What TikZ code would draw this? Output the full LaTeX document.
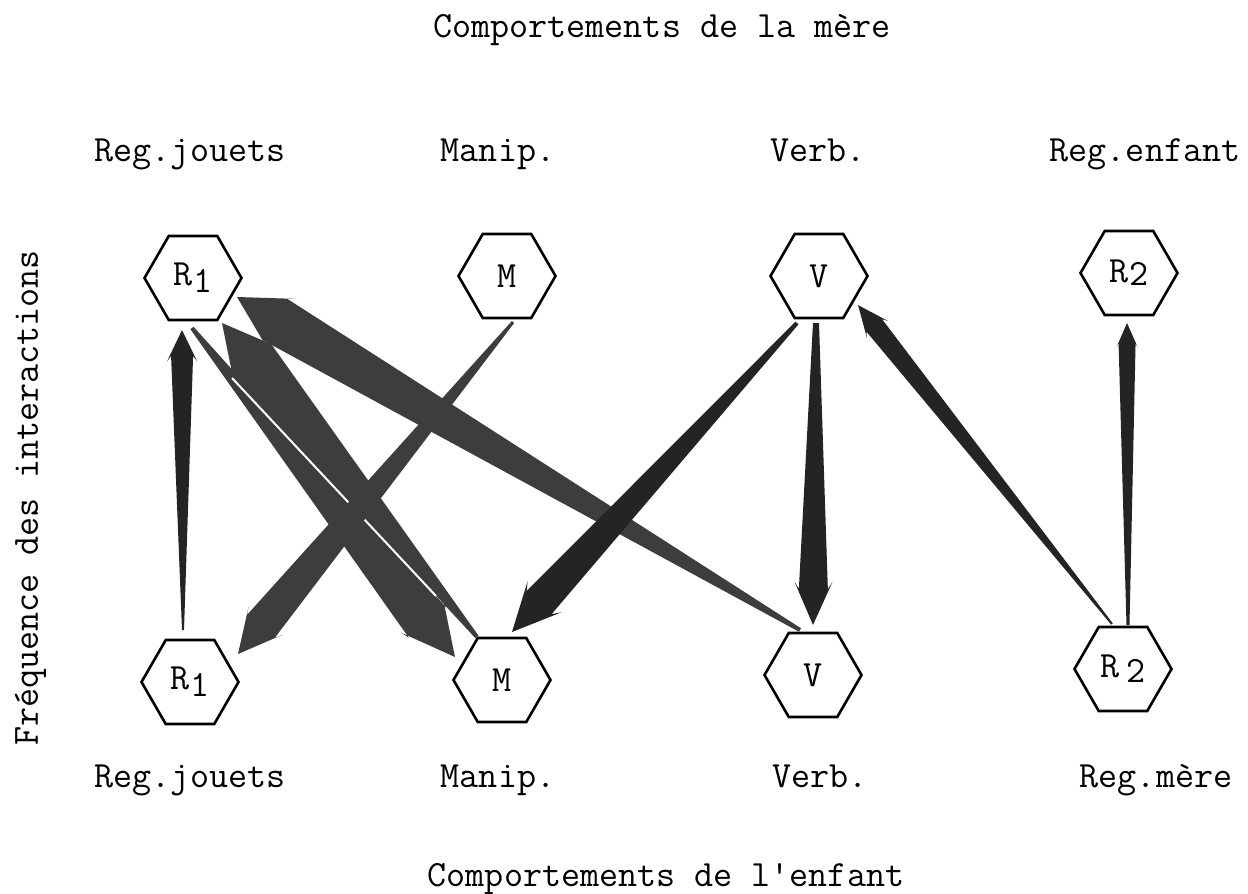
\documentclass[tikz,border=0pt]{standalone}
\usepackage{fontspec}
\usetikzlibrary{shapes.geometric,calc}
\newcommand\lowr[2]{\raisebox{-#1ex}{#2}}
% tapered arrow: #1 start, #2 tip, #3 start width, #4 shaft width at head, #5 head width, #6 head length (px), #7 style
\newcommand\taper[7]{%
  \path let \p1=(#1), \p2=(#2) in \pgfextra{%
    \pgfmathsetmacro\tpA{atan2(\y2-\y1,\x2-\x1)}%
    \pgfmathsetmacro\tpL{veclen(\x2-\x1,\y2-\y1)}%
    \xdef\tpAng{\tpA}\xdef\tpLen{\tpL}%
    \xdef\tpX{\x1}\xdef\tpY{\y1}};
  \pgfmathsetmacro\tpB{\tpLen-0.5*#6}%
  \pgfmathsetmacro\tpC{\tpLen-0.6*#6}%
  \fill[#7,shift={(\tpX,\tpY)},rotate=\tpAng]
    (0pt,{-0.25pt*#3}) -- ({\tpB pt},{-0.25pt*#4}) -- ({\tpC pt},{-0.25pt*#5})
    -- ({\tpLen pt},0pt)
    -- ({\tpC pt},{0.25pt*#5}) -- ({\tpB pt},{0.25pt*#4}) -- (0pt,{0.25pt*#3}) -- cycle;
}
\tikzset{
  hex/.style={draw, regular polygon, regular polygon sides=6, minimum size=48.5pt,
    inner sep=0pt, line width=1.3pt, font=\fontsize{18.5}{20}\ttfamily},
  lbl/.style={inner sep=0pt, font=\fontsize{18.5}{20}\ttfamily},
  dark/.style={fill=black!86},
  grey/.style={fill=black!76},
}
\begin{document}
\begin{tikzpicture}[x=0.5pt,y=-0.5pt]
\fill[white] (0,0) rectangle (1248,894);
\useasboundingbox (0,0) rectangle (1248,894);

% titles and labels
\node[lbl,anchor=base] (ttop) at (662,38) {Comportements de la mère};
\node[lbl,anchor=base] (tbot) at (666,886) {Comportements de l'enfant};
\node[lbl,anchor=base,rotate=90] (tside) at (38,498) {Fréquence des interactions};

\node[lbl,anchor=base] (lt1) at (190,161) {Reg.jouets};
\node[lbl,anchor=base] (lt2) at (498,161) {Manip.};
\node[lbl,anchor=base] (lt3) at (818,161) {Verb.};
\node[lbl,anchor=base] (lt4) at (1145,161) {Reg.enfant};
\node[lbl,anchor=base] (lb1) at (190,787) {Reg.jouets};
\node[lbl,anchor=base] (lb2) at (498,787) {Manip.};
\node[lbl,anchor=base] (lb3) at (820,787) {Verb.};
\node[lbl,anchor=base] (lb4) at (1156,787) {Reg.mère};

% hexagons
\node[hex] (R1t) at (193,278) {R\lowr{0.45}{1}};
\node[hex] (Mt)  at (507,276) {M};
\node[hex] (Vt)  at (819,276) {V};
\node[hex] (R2t) at (1129,273) {R\lowr{0.2}{2}};
\node[hex] (R1b) at (190,682) {R\lowr{0.45}{1}};
\node[hex] (Mb)  at (502,680) {M};
\node[hex] (Vb)  at (813,675) {V};
\node[hex] (R2b) at (1123,669) {R\,\lowr{0.3}{2}};

% arrow end points
\coordinate (s1) at ($(R1b)+(-7,-52)$);  \coordinate (e1) at ($(R1t)+(-11,52)$);
\coordinate (s2) at ($(Vt)+(-3,47)$);    \coordinate (e2) at ($(Vb)+(0,-50)$);
\coordinate (s3) at ($(R2b)+(5,-44)$);   \coordinate (e3) at ($(R2t)+(-2,50)$);
\coordinate (s4) at ($(R2b)+(-11,-45)$); \coordinate (e4) at ($(Vt)+(39,29)$);
\coordinate (s5) at ($(Vb)+(-13,-45)$);  \coordinate (e5) at ($(R1t)+(44,19)$);
\coordinate (sa) at ($(R1t)+(-1,50)$);   \coordinate (ea) at ($(Mb)+(-47,-23)$);
\coordinate (sb) at ($(Mb)+(-25,-43)$);  \coordinate (eb) at ($(R1t)+(29,45)$);
\coordinate (s7) at ($(Mt)+(6,46)$);     \coordinate (e7) at ($(R1b)+(48,-28)$);
\coordinate (s8) at ($(Vt)+(-22,47)$);   \coordinate (e8) at ($(Mb)+(10,-48)$);
\coordinate (w1) at ($(R1t)+(39,100)$);  \coordinate (w2) at ($(Mb)+(-66,-84)$);

% arrows
\taper{sa}{ea}{4}{48}{54}{44}{grey}
\taper{sb}{eb}{4}{50}{58}{46}{grey}
\draw[white,line width=1pt] (w1) -- (w2);
\taper{s7}{e7}{3}{36}{44}{36}{grey}
\taper{s5}{e5}{4}{48}{58}{44}{grey}
\taper{s8}{e8}{4}{34}{46}{40}{dark}
\taper{s1}{e1}{2}{22}{30}{26}{dark}
\taper{s2}{e2}{6}{29}{38}{36}{dark}
\taper{s3}{e3}{3}{17}{21}{20}{dark}
\taper{s4}{e4}{2}{20}{27}{26}{dark}
\end{tikzpicture}
\end{document}
